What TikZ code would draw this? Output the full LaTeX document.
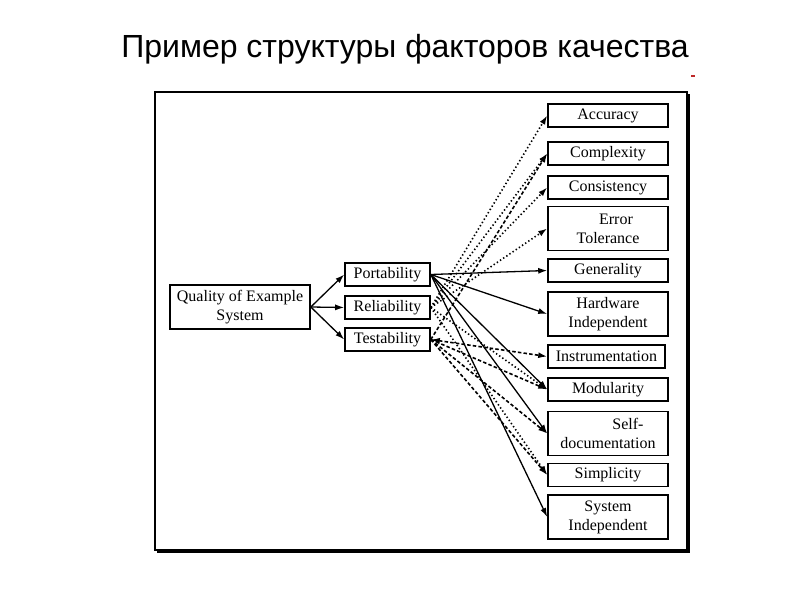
\documentclass[tikz,border=0pt]{standalone}
\usepackage{fontspec}
\setmainfont{Liberation Serif}
\newfontfamily\titlefont{Liberation Sans}
\usetikzlibrary{arrows.meta}
\definecolor{mark-color}{RGB}{190, 40, 40}

\begin{document}
\begin{tikzpicture}[
    x=1pt, y=-1pt,
    box/.style={rectangle,draw,line width=1.6pt,inner sep=1pt,align=center,font=\fontsize{16}{19}\selectfont},
    factor/.style={box,minimum width=85pt,minimum height=23pt},
    crit/.style={box,minimum width=120pt,minimum height=23pt},
    tallcrit/.style={crit,minimum height=44pt},
    >={Latex[length=9pt,width=6pt]},
    solidarrow/.style={->,line width=1.3pt},
    dotarrow/.style={->,line width=1.6pt,dash pattern=on 1.4pt off 2.4pt},
    dasharrow/.style={->,line width=1.6pt,dash pattern=on 3.5pt off 2.2pt}
]
\useasboundingbox (0,0) rectangle (800,600);
\node[anchor=base,font=\titlefont\fontsize{32}{36}\selectfont] (title) at (405,57) {Пример структуры факторов качества};
\fill[mark-color] (691,75) rectangle (695,77);
\draw[line width=1.8pt] (155,92) rectangle (687,550);
\draw[line width=2.6pt] (689,94) -- (689,552) -- (157,552);

\node[box,minimum width=140pt,minimum height=44pt] (quality) at (240,307) {Quality of Example\\System};
\node[factor] (port) at (387.5,274.5) {Portability};
\node[factor] (rel) at (387.5,307.5) {Reliability};
\node[factor] (test) at (387.5,339.5) {Testability};

\node[crit] (acc) at (608,115.5) {Accuracy};
\node[crit] (cplx) at (608,153.5) {Complexity};
\node[crit] (cons) at (608,187.5) {Consistency};
\node[tallcrit] (err) at (608,228.5) {\hspace*{1em}Error\\Tolerance};
\node[crit] (gen) at (608,270.5) {Generality};
\node[tallcrit] (hw) at (608,314) {Hardware\\Independent};
\node[crit,minimum width=117pt] (instr) at (606.5,356.5) {Instrumentation};
\node[crit] (mod) at (608,389.5) {Modularity};
\node[tallcrit] (selfdoc) at (608,433.5) {\hspace*{2.5em}Self-\\documentation};
\node[crit] (simp) at (608,475) {Simplicity};
\node[tallcrit] (sysind) at (608,517) {System\\Independent};

\draw[solidarrow] (quality.east) -- (port.west);
\draw[solidarrow] (quality.east) -- (rel.west);
\draw[solidarrow] (quality.east) -- (test.west);

\draw[solidarrow] (port.east) -- (gen.west);
\draw[solidarrow] (port.east) -- (hw.west);
\draw[solidarrow] (port.east) -- (mod.west);
\draw[solidarrow] (port.east) -- (selfdoc.west);
\draw[solidarrow] (port.east) -- (sysind.west);

\draw[dotarrow] (rel.east) -- (acc.west);
\draw[dotarrow] (rel.east) -- (cplx.west);
\draw[dotarrow] (rel.east) -- (cons.west);
\draw[dotarrow] (rel.east) -- (err.west);
\draw[dotarrow] (rel.east) -- (mod.west);
\draw[dotarrow] (rel.east) -- (simp.west);

\draw[dasharrow] (test.east) -- (cplx.west);
\draw[dasharrow,<->] (test.east) -- (instr.west);
\draw[dasharrow] (test.east) -- (mod.west);
\draw[dasharrow] (test.east) -- (selfdoc.west);
\draw[dasharrow] (test.east) -- (simp.west);
\end{tikzpicture}
\end{document}
